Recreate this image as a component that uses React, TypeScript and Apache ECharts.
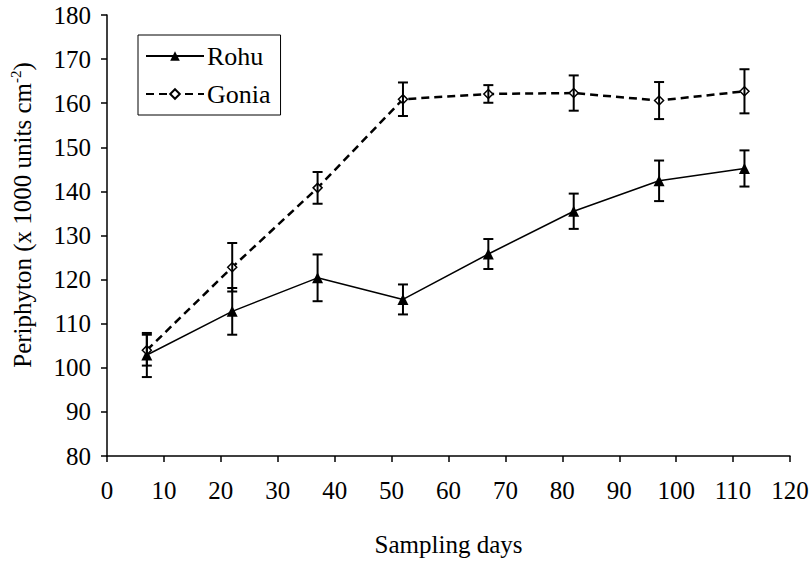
import React, { useEffect, useRef } from "react";
import * as echarts from "echarts";

const days = [7, 22, 37, 52, 67, 82, 97, 112];
const rohu = [102.9, 112.8, 120.4, 115.5, 125.8, 135.5, 142.4, 145.2];
const rohuErr = [5.0, 5.3, 5.3, 3.4, 3.4, 4.0, 4.6, 4.1];
const gonia = [104.0, 122.8, 140.8, 160.9, 162.1, 162.3, 160.6, 162.7];
const goniaErr = [3.5, 5.5, 3.6, 3.8, 2.0, 4.0, 4.2, 5.0];
const xTicks = { min: 0, max: 120, interval: 10 };
const yTicks = { min: 80, max: 180, interval: 10 };

const FONT = "'Liberation Serif', 'Times New Roman', serif";

function errorBars(name: string, means: number[], errs: number[]) {
  const data = days.map((d, i) => [d, means[i] - errs[i], means[i] + errs[i]]);
  return {
    type: "custom",
    name: name + "-err",
    data,
    z: 5,
    silent: true,
    encode: { x: 0, y: [1, 2] },
    renderItem: (params: any, api: any) => {
      const x = api.value(0);
      const lo = api.coord([x, api.value(1)]);
      const hi = api.coord([x, api.value(2)]);
      const hw = 5;
      const st = { stroke: "#000", lineWidth: 2 };
      return {
        type: "group",
        children: [
          { type: "line", shape: { x1: lo[0], y1: lo[1], x2: hi[0], y2: hi[1] }, style: st },
          { type: "line", shape: { x1: lo[0] - hw, y1: lo[1], x2: lo[0] + hw, y2: lo[1] }, style: st },
          { type: "line", shape: { x1: hi[0] - hw, y1: hi[1], x2: hi[0] + hw, y2: hi[1] }, style: st },
        ],
      };
    },
  };
}

export default function App() {
  const ref = useRef<HTMLDivElement>(null);
  useEffect(() => {
    document.body.style.margin = "0";
    if (!ref.current) return;
    const chart = echarts.init(ref.current, undefined, { renderer: "svg" });
    const axisCommon = {
      axisLine: { show: true, onZero: false, lineStyle: { color: "#000", width: 1.5 } },
      axisTick: { show: true, inside: false, length: 6, lineStyle: { color: "#000", width: 1.5 } },
      splitLine: { show: false },
    };
    chart.setOption({
      animation: false,
      backgroundColor: "#fff",
      textStyle: { fontFamily: FONT },
      grid: { left: 107, right: 22, top: 15, bottom: 105, containLabel: false },
      xAxis: {
        type: "value",
        ...xTicks,
        ...axisCommon,
        axisLabel: { color: "#000", fontSize: 25, fontFamily: FONT, margin: 22 },
        name: "Sampling days",
        nameLocation: "middle",
        nameGap: 76,
        nameTextStyle: { color: "#000", fontSize: 25, fontFamily: FONT },
      },
      yAxis: {
        type: "value",
        ...yTicks,
        ...axisCommon,
        axisLabel: { color: "#000", fontSize: 25, fontFamily: FONT, margin: 16 },
      },
      legend: {
        orient: "vertical",
        left: 138,
        top: 35,
        padding: [8, 10, 8, 7],
        itemGap: 12,
        itemWidth: 58,
        itemHeight: 12,
        borderColor: "#000",
        borderWidth: 1,
        borderRadius: 0,
        data: ["Rohu", "Gonia"],
        textStyle: { color: "#000", fontSize: 26, fontFamily: FONT, padding: [0, 0, 0, -2] },
      },
      graphic: [
        {
          type: "text",
          x: 22,
          y: 215,
          rotation: Math.PI / 2,
          style: {
            text: "Periphyton (x 1000 units cm{sup|-2})",
            fontSize: 25,
            fontFamily: FONT,
            fill: "#000",
            align: "center",
            verticalAlign: "middle",
            rich: {
              sup: { fontSize: 15, fontFamily: FONT, fill: "#000", padding: [0, 0, 12, 0] },
            },
          },
        },
      ],
      series: [
        {
          type: "line",
          name: "Rohu",
          data: days.map((d, i) => [d, rohu[i]]),
          symbol: "triangle",
          symbolSize: 11,
          itemStyle: { color: "#000" },
          lineStyle: { color: "#000", width: 1.5 },
          z: 3,
        },
        {
          type: "line",
          name: "Gonia",
          data: days.map((d, i) => [d, gonia[i]]),
          symbol: "diamond",
          symbolSize: 9,
          itemStyle: { color: "#fff", borderColor: "#000", borderWidth: 1.5 },
          lineStyle: { color: "#000", width: 2.5, type: [8, 5] },
          z: 3,
        },
        errorBars("Rohu", rohu, rohuErr),
        errorBars("Gonia", gonia, goniaErr),
      ],
    });
    return () => chart.dispose();
  }, []);
  return <div ref={ref} style={{ width: 812, height: 562 }} />;
}
